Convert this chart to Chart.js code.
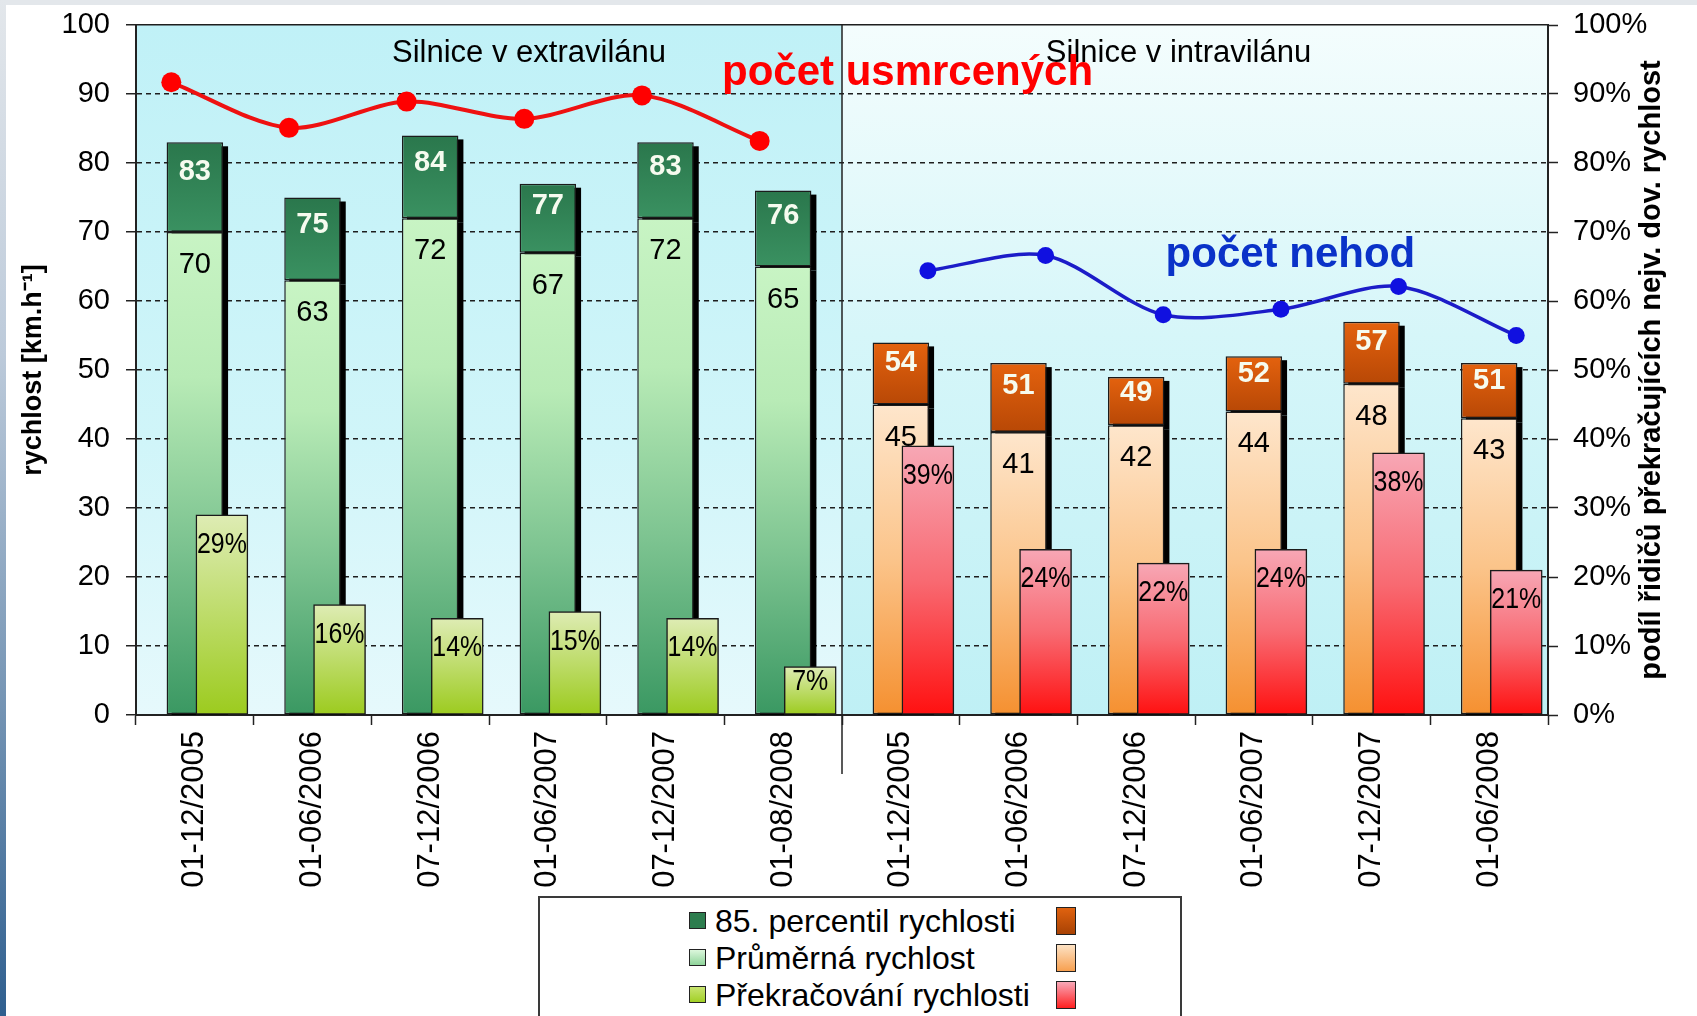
<!DOCTYPE html>
<html lang="cs">
<head>
<meta charset="utf-8">
<title>Rychlost na silnicích</title>
<script src="https://cdn.jsdelivr.net/npm/chart.js@4.4.1/dist/chart.umd.min.js"></script>
<style>
  html, body { margin:0; padding:0; width:1697px; height:1016px; overflow:hidden; background:#ffffff; }
  #chartBox { position:absolute; left:0; top:0; width:1697px; height:1016px; }
  #chartBox canvas { display:block; }
  #topStrip { position:absolute; left:0; top:0; width:1697px; height:5px; background:#e3e7eb; z-index:2; }
  #leftStrip { position:absolute; left:0; top:0; width:6px; height:1016px; z-index:2;
    background:linear-gradient(to bottom,#e3e7eb 0%,#bccada 35%,#7393b3 70%,#2f5f8f 100%); }
  #legend { position:absolute; left:538px; top:896px; width:640px; height:150px; border:2px solid #3a3a3a;
    background:#fff; z-index:3; font-family:"Liberation Sans", Arial, sans-serif; font-size:32px; color:#000; }
  .lg-row { position:absolute; left:0; width:100%; height:36px; line-height:36px; white-space:nowrap; }
  .lg-sw { position:absolute; left:149px; top:9px; width:17px; height:17px; border:1px solid #222; box-sizing:border-box; }
  .lg-txt { position:absolute; left:175px; top:0; }
  .lg-sw2 { position:absolute; left:516px; top:4px; width:20px; height:28px; border:1px solid #222; box-sizing:border-box; }
</style>
</head>
<body>
<div id="topStrip"></div>
<div id="leftStrip"></div>
<div id="chartBox"><canvas id="chart"></canvas></div>
<div id="legend"></div>
<script>
// ---------------- data ----------------
const categories = ['01-12/2005', '01-06/2006', '07-12/2006', '01-06/2007', '07-12/2007', '01-08/2008',
                    '01-12/2005', '01-06/2006', '07-12/2006', '01-06/2007', '07-12/2007', '01-06/2008'];
const percentile85 = [83, 75, 84, 77, 83, 76, 54, 51, 49, 52, 57, 51];
const averageSpeed = [70, 63, 72, 67, 72, 65, 45, 41, 42, 44, 48, 43];
const speedingShare = [29, 16, 14, 15, 14, 7, 39, 24, 22, 24, 38, 21];
const fatalities = [91.7, 85.1, 88.9, 86.4, 89.8, 83.2];   // relative trend, extravilán
const accidents = [64.4, 66.6, 58.0, 58.8, 62.1, 55.0];    // relative trend, intravilán
const ruralCount = 6;
const seriesNames = ['85. percentil rychlosti', 'Průměrná rychlost', 'Překračování rychlosti'];
const sectionTitles = ['Silnice v extravilánu', 'Silnice v intravilánu'];
const lineNames = ['počet usmrcených', 'počet nehod'];
const axisTitles = ['rychlost [km.h⁻¹]', 'podíl řidičů překračujících nejv. dov. rychlost'];

// ---------------- styling ----------------
const FONT = '"Liberation Sans", Arial, sans-serif';
const PLOT_TOP = 25;
const shareShift = 0.23, fatalShift = -0.2, accShift = 0.23;
const palette = {
  rural: {
    p85:   [[0, '#2a774c'], [1, '#3a9161']],
    avg:   [[0, '#c8f4c4'], [0.3, '#b8ebb6'], [0.65, '#7cc390'], [1, '#3a9862']],
    share: [[0, '#deecb4'], [1, '#9ccb1e']]
  },
  urban: {
    p85:   [[0, '#e4620e'], [1, '#b84806']],
    avg:   [[0, '#fee6cc'], [0.5, '#fbc48a'], [1, '#f59030']],
    share: [[0, '#f7a7b5'], [0.5, '#f86a72'], [1, '#ff1010']]
  }
};

function barGradient(kind, topOf, botOf, yId) {
  return (c) => {
    if (c.type !== 'data') return '#888888';
    const chart = c.chart, sc = chart.scales[yId];
    const pal = c.dataIndex < ruralCount ? palette.rural : palette.urban;
    if (!chart.chartArea || !sc) return pal[kind][0][1];
    const t = sc.getPixelForValue(topOf(c.dataIndex));
    const b = sc.getPixelForValue(botOf(c.dataIndex));
    const g = chart.ctx.createLinearGradient(0, t, 0, b + 0.01);
    pal[kind].forEach(([o, col]) => g.addColorStop(o, col));
    return g;
  };
}

// ---------------- plugins ----------------
const plotBackground = {
  id: 'plotBackground',
  beforeDraw(chart) {
    const {ctx, chartArea: a, scales: {x}} = chart;
    if (!a) return;
    const divX = (x.getPixelForValue(ruralCount - 1) + x.getPixelForValue(ruralCount)) / 2;
    ctx.save();
    let g = ctx.createLinearGradient(0, a.top, 0, a.bottom);
    g.addColorStop(0, '#c0f1f7'); g.addColorStop(0.6, '#d0f5f9'); g.addColorStop(1, '#e6f9fc');
    ctx.fillStyle = g; ctx.fillRect(a.left, a.top, divX - a.left, a.bottom - a.top);
    g = ctx.createLinearGradient(0, a.top, 0, a.bottom);
    g.addColorStop(0, '#f4fdfd'); g.addColorStop(0.45, '#d6f6f9'); g.addColorStop(1, '#bff0f5');
    ctx.fillStyle = g; ctx.fillRect(divX, a.top, a.right - divX, a.bottom - a.top);
    ctx.restore();
  }
};

// drop shadow behind the speed columns, derived from the library's bar elements
const barShadow = {
  id: 'barShadow',
  beforeDatasetDraw(chart, args) {
    const ds = chart.data.datasets[args.index];
    if (!ds.castShadow) return;
    const {ctx, chartArea: a} = chart;
    ctx.save();
    ctx.beginPath(); ctx.rect(a.left, a.top, a.right - a.left, a.bottom - a.top); ctx.clip();
    ctx.fillStyle = '#000000';
    args.meta.data.forEach((el) => {
      const p = el.getProps(['x', 'y', 'base', 'width'], true);
      const top = Math.min(p.y, p.base);
      ctx.fillRect(p.x - p.width / 2 + 5, top + 4, p.width, Math.abs(p.base - p.y));
    });
    ctx.restore();
  }
};

const barLabels = {
  id: 'barLabels',
  afterDatasetsDraw(chart) {
    const ctx = chart.ctx;
    chart.data.datasets.forEach((ds, di) => {
      const st = ds.labelStyle;
      if (!st) return;
      const meta = chart.getDatasetMeta(di);
      meta.data.forEach((el, i) => {
        const p = el.getProps(['x', 'y', 'base'], true);
        const top = Math.min(p.y, p.base), h = Math.abs(p.base - p.y);
        const off = Math.min(st.offset, h * 0.33);
        ctx.save();
        ctx.font = st.font; ctx.fillStyle = st.color;
        ctx.textAlign = 'center'; ctx.textBaseline = 'middle';
        ctx.translate(p.x, top + off);
        ctx.scale(st.squeeze, 1);
        ctx.fillText(String(st.values[i]) + st.suffix, 0, 0);
        ctx.restore();
      });
    });
  }
};

const overlayText = {
  id: 'overlayText',
  afterDraw(chart) {
    const {ctx, chartArea: a, scales: {x, xl, y, y2}} = chart;
    const divX = (x.getPixelForValue(ruralCount - 1) + x.getPixelForValue(ruralCount)) / 2;
    ctx.save();
    ctx.strokeStyle = '#222'; ctx.lineWidth = 1.5;
    ctx.beginPath(); ctx.moveTo(divX, a.top); ctx.lineTo(divX, a.bottom + 59); ctx.stroke();

    ctx.fillStyle = '#000'; ctx.textAlign = 'center'; ctx.textBaseline = 'alphabetic';
    ctx.font = '31px ' + FONT;
    ctx.fillText(sectionTitles[0], xl.getPixelForValue(2.84), y.getPixelForValue(94.6));
    ctx.fillText(sectionTitles[1], xl.getPixelForValue(8.36), y.getPixelForValue(94.6));

    ctx.textAlign = 'left';
    ctx.font = 'bold 42px ' + FONT;
    ctx.fillStyle = '#ff0000';
    ctx.fillText(lineNames[0], xl.getPixelForValue(4.48), y.getPixelForValue(91.3));
    ctx.fillStyle = '#0a32c8';
    ctx.fillText(lineNames[1], xl.getPixelForValue(8.25), y.getPixelForValue(64.9));

    // right axis title, reading bottom to top
    ctx.translate(y2.left + 104, y.getPixelForValue(50));
    ctx.rotate(-Math.PI / 2);
    ctx.textAlign = 'center'; ctx.textBaseline = 'middle';
    ctx.fillStyle = '#000';
    ctx.font = 'bold 29px ' + FONT;
    ctx.fillText(axisTitles[1], 0, 0);
    ctx.restore();
  }
};

// ---------------- chart ----------------
const barBorder = '#1b1b1b';
const chart = new Chart(document.getElementById('chart'), {
  type: 'bar',
  data: {
    labels: categories,
    datasets: [
      {
        label: seriesNames[0], type: 'bar', xAxisID: 'x', yAxisID: 'y',
        data: averageSpeed.map((a, i) => [a, percentile85[i]]),
        backgroundColor: barGradient('p85', i => percentile85[i], i => averageSpeed[i], 'y'),
        borderColor: barBorder, borderWidth: 1.5, borderSkipped: false,
        grouped: false, barPercentage: 0.48, categoryPercentage: 1, order: 3, castShadow: true,
        labelStyle: { values: percentile85, suffix: '', font: 'bold 29px ' + FONT, color: '#f6fbef', offset: 32, squeeze: 1 }
      },
      {
        label: seriesNames[1], type: 'bar', xAxisID: 'x', yAxisID: 'y',
        data: averageSpeed,
        backgroundColor: barGradient('avg', i => averageSpeed[i], () => 0, 'y'),
        borderColor: barBorder, borderWidth: 1.5, borderSkipped: false,
        grouped: false, barPercentage: 0.48, categoryPercentage: 1, order: 2, castShadow: true,
        labelStyle: { values: averageSpeed, suffix: '', font: '29px ' + FONT, color: '#000', offset: 33, squeeze: 1 }
      },
      {
        label: seriesNames[2], type: 'bar', xAxisID: 'xl', yAxisID: 'y2',
        data: speedingShare.map((v, i) => ({x: i + shareShift, y: v})),
        backgroundColor: barGradient('share', i => speedingShare[i], () => 0, 'y2'),
        borderColor: barBorder, borderWidth: 1.5, borderSkipped: false,
        grouped: false, barThickness: 52, order: 1,
        labelStyle: { values: speedingShare, suffix: '%', font: '29px ' + FONT, color: '#000', offset: 30, squeeze: 0.86 }
      },
      {
        label: lineNames[0], type: 'line', xAxisID: 'xl', yAxisID: 'y',
        data: fatalities.map((v, i) => ({x: i + fatalShift, y: v})),
        borderColor: '#ee1111', borderWidth: 4, tension: 0.3, fill: false,
        pointRadius: 10, pointBackgroundColor: '#ff0000', pointBorderColor: '#ff0000', pointBorderWidth: 0, order: 0
      },
      {
        label: lineNames[1], type: 'line', xAxisID: 'xl', yAxisID: 'y',
        data: accidents.map((v, i) => ({x: ruralCount + i + accShift, y: v})),
        borderColor: '#1c1cc8', borderWidth: 3.5, tension: 0.3, fill: false,
        pointRadius: 8.5, pointBackgroundColor: '#1010e0', pointBorderColor: '#1010e0', pointBorderWidth: 0, order: 0
      }
    ]
  },
  options: {
    responsive: true, maintainAspectRatio: false, animation: false, events: [],
    layout: { autoPadding: false, padding: { top: PLOT_TOP, left: 0, right: 0, bottom: 0 } },
    plugins: { legend: { display: false }, tooltip: { enabled: false } },
    scales: {
      x: {
        type: 'category', position: 'bottom', offset: true,
        grid: { display: true, offset: true, drawOnChartArea: false, drawTicks: true, tickLength: 10, tickColor: '#222', tickWidth: 1.5 },
        border: { display: true, color: '#222', width: 2 },
        ticks: { autoSkip: false, maxRotation: 90, minRotation: 90, padding: 6, color: '#000', font: { family: FONT, size: 31 } },
        afterFit(s) { s.height = 301; }
      },
      xl: { type: 'linear', display: false, min: -0.5, max: 11.5, offset: false },
      y: {
        type: 'linear', position: 'left', min: 0, max: 100,
        ticks: { stepSize: 10, padding: 16, color: '#000', font: { family: FONT, size: 29 } },
        grid: { color: '#1e1e1e', lineWidth: 1.5, tickLength: 10, tickColor: '#222', tickWidth: 1.5 },
        border: { display: true, color: '#222', width: 2,
                  dash: (c) => (c.tick && (c.tick.value === 100 || c.tick.value === 0)) ? [] : [5, 4] },
        title: { display: true, text: axisTitles[0], color: '#000', font: { family: FONT, size: 27, weight: 'bold' }, padding: { top: 17, bottom: 0 } },
        afterFit(s) { s.width = 136; s.paddingTop = 0; s.paddingBottom = 0; }
      },
      y2: {
        type: 'linear', position: 'right', min: 0, max: 100,
        ticks: { stepSize: 10, padding: 15, color: '#000', font: { family: FONT, size: 29 }, callback: v => v + '%' },
        grid: { drawOnChartArea: false, tickLength: 10, tickColor: '#222', tickWidth: 1.5 },
        border: { display: true, color: '#222', width: 2 },
        afterFit(s) { s.width = 149; s.paddingTop = 0; s.paddingBottom = 0; }
      }
    }
  },
  plugins: [plotBackground, barShadow, barLabels, overlayText]
});

// keep the plot top where the original has it
const topDiff = chart.chartArea.top - PLOT_TOP;
if (Math.abs(topDiff) > 0.5) {
  chart.options.layout.padding.top = PLOT_TOP - topDiff;
  chart.update();
}

// ---------------- legend (two swatches per row: extravilán / intravilán) ----------------
const legendSwatches = [
  ['#2d7d4e', 'linear-gradient(#e0620f,#a84204)'],
  ['linear-gradient(#dcf7dc,#8fd49a)', 'linear-gradient(#fde2c4,#f7a050)'],
  ['linear-gradient(#c8e470,#a2d026)', 'linear-gradient(#f8a8b8,#ff2020)']
];
const legendEl = document.getElementById('legend');
seriesNames.forEach((name, i) => {
  const row = document.createElement('div');
  row.className = 'lg-row';
  row.style.top = (5 + i * 37) + 'px';
  const sw = document.createElement('span'); sw.className = 'lg-sw'; sw.style.background = legendSwatches[i][0];
  const tx = document.createElement('span'); tx.className = 'lg-txt'; tx.textContent = name;
  const sw2 = document.createElement('span'); sw2.className = 'lg-sw2'; sw2.style.background = legendSwatches[i][1];
  row.appendChild(sw); row.appendChild(tx); row.appendChild(sw2);
  legendEl.appendChild(row);
});
</script>
</body>
</html>
